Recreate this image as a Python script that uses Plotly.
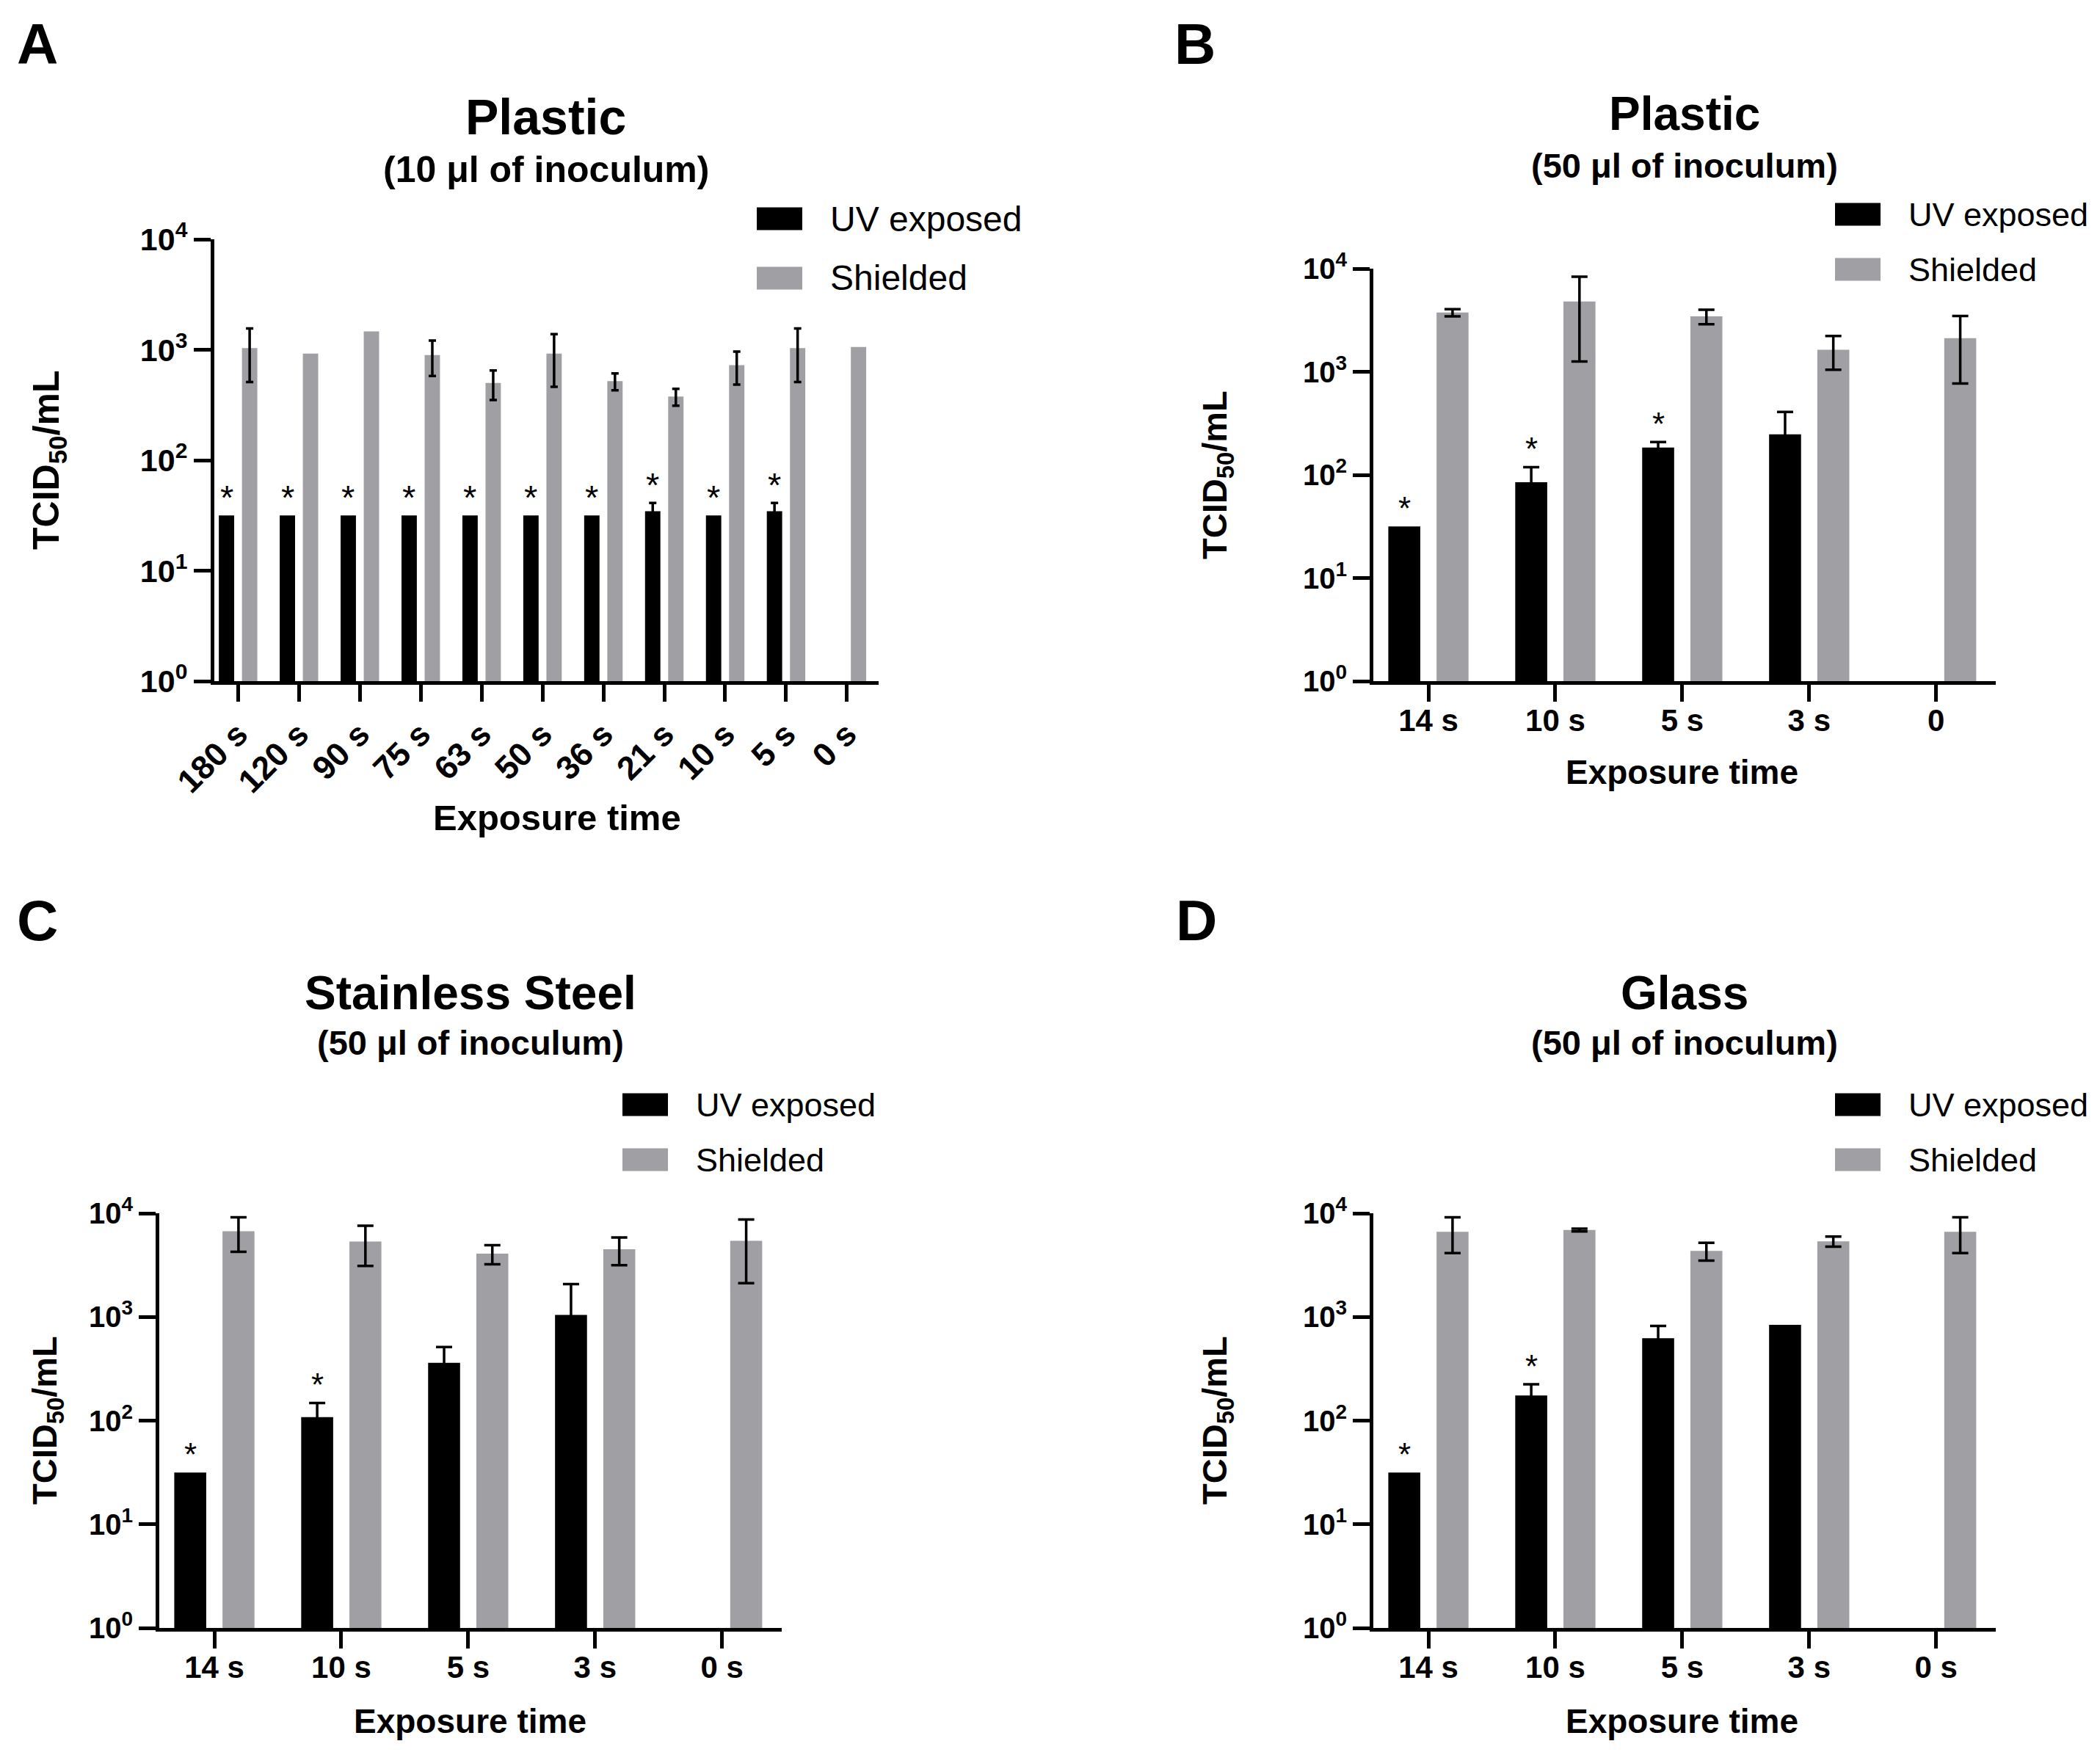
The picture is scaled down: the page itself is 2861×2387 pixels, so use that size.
"""
UV inactivation of virus on surfaces: four panel TCID50 bar chart (log scale).
UV exposed vs shielded samples per exposure time.
Saves to out.html.
"""

import math

import numpy as np
import plotly.graph_objects as go

W, H = 2861, 2387
PAGE_MARGIN = 8  # default <body> margin of the written html page
FONT = "Arial, Liberation Sans, Helvetica, sans-serif"
UV_COLOUR = "#000000"
SHIELD_COLOUR = "#a0a0a4"
BARGAP = 0.24
BARGROUPGAP = 0.337

# ---- data (TCID50/mL) ----
A_TIMES = ["180 s", "120 s", "90 s", "75 s", "63 s", "50 s", "36 s", "21 s", "10 s", "5 s", "0 s"]
A_UV = [31.6, 31.6, 31.6, 31.6, 31.6, 31.6, 31.6, 34.5, 31.6, 34.5, None]
A_UV_ERR = [None, None, None, None, None, None, None, 6.5, None, 6.5, None]
A_SHIELD = [1035, 922, 1468, 894, 500, 922, 520, 377, 724, 1035, 1060]
A_SHIELD_ERR = [525, None, None, 315, 150, 460, 90, 65, 240, 525, None]
A_STARS = [1, 1, 1, 1, 1, 1, 1, 1, 1, 1, 0]

B_TIMES = ["14 s", "10 s", "5 s", "3 s", "0"]
B_UV = [31.6, 85, 184, 247, None]
B_UV_ERR = [None, 34, 24, 160, None]
B_SHIELD = [3750, 4810, 3440, 1635, 2120]
B_SHIELD_ERR = [300, 3550, 550, 590, 1350]
B_STARS = [1, 1, 1, 0, 0]

C_TIMES = ["14 s", "10 s", "5 s", "3 s", "0 s"]
C_UV = [31.6, 108, 361, 1045, None]
C_UV_ERR = [None, 40, 152, 1030, None]
C_SHIELD = [6700, 5335, 4075, 4500, 5420]
C_SHIELD_ERR = [2450, 2230, 850, 1350, 3300]
C_STARS = [1, 1, 0, 0, 0]

D_TIMES = ["14 s", "10 s", "5 s", "3 s", "0 s"]
D_UV = [31.6, 175, 623, 840, None]
D_UV_ERR = [None, 49, 197, None, None]
D_SHIELD = [6630, 6890, 4345, 5370, 6630]
D_SHIELD_ERR = [2500, 200, 850, 600, 2500]
D_STARS = [1, 1, 0, 0, 0]

Y_TICKS = [1, 10, 100, 1000, 10000]
Y_TICKTEXT = ["10<sup>0</sup>", "10<sup>1</sup>", "10<sup>2</sup>", "10<sup>3</sup>", "10<sup>4</sup>"]

PANELS = [
    dict(letter="A", title="Plastic", subtitle="(10 μl of inoculum)",
         times=A_TIMES, uv=A_UV, uv_err=A_UV_ERR, shield=A_SHIELD, shield_err=A_SHIELD_ERR, stars=A_STARS),
    dict(letter="B", title="Plastic", subtitle="(50 μl of inoculum)",
         times=B_TIMES, uv=B_UV, uv_err=B_UV_ERR, shield=B_SHIELD, shield_err=B_SHIELD_ERR, stars=B_STARS),
    dict(letter="C", title="Stainless Steel", subtitle="(50 μl of inoculum)",
         times=C_TIMES, uv=C_UV, uv_err=C_UV_ERR, shield=C_SHIELD, shield_err=C_SHIELD_ERR, stars=C_STARS),
    dict(letter="D", title="Glass", subtitle="(50 μl of inoculum)",
         times=D_TIMES, uv=D_UV, uv_err=D_UV_ERR, shield=D_SHIELD, shield_err=D_SHIELD_ERR, stars=D_STARS),
]

# ---- layout in pixels of the 2861x2387 page ----
# plot box (left, right, top, bottom), x range, error cap half width, font scale
GEOM = {
    "A": dict(box=(292, 1197, 326, 928), xrange=[-0.39, 10.52], cap=5, tickangle=-45, scale=1.07,
              standoff=0, letter=(51, 60), title=(744, 159), subtitle=(744, 231),
              ytitle=(66, 627), xtitle=(759, 1114), legend=(1031, 298, 379)),
    "B": dict(box=(1871, 2719, 366, 928), xrange=[-0.434, 4.47], cap=11, tickangle=0, scale=1.0,
              standoff=-10, letter=(1628, 60), title=(2295, 155), subtitle=(2295, 225),
              ytitle=(1658, 647), xtitle=(2291, 1052), legend=(2500, 292, 367)),
    "C": dict(box=(217, 1065, 1653, 2218), xrange=[-0.434, 4.47], cap=11, tickangle=0, scale=1.0,
              standoff=-10, letter=(51, 1254), title=(641, 1353), subtitle=(641, 1421),
              ytitle=(64, 1935), xtitle=(640, 2345), legend=(848, 1505, 1580)),
    "D": dict(box=(1871, 2719, 1653, 2218), xrange=[-0.434, 4.47], cap=11, tickangle=0, scale=1.0,
              standoff=-10, letter=(1630, 1254), title=(2295, 1353), subtitle=(2295, 1421),
              ytitle=(1658, 1935), xtitle=(2291, 2345), legend=(2500, 1505, 1580)),
}


def px(x):
    return (x - PAGE_MARGIN) / W


def py(y):
    return 1 - (y - PAGE_MARGIN) / H


def err_array(values):
    # NaN keeps plotly from drawing a flat cap where there is no error bar
    return np.array([np.nan if v is None else v for v in values], dtype=float)


def text(x, y, s, size, bold=True, xanchor="center", **kw):
    return dict(
        x=px(x), y=py(y), xref="paper", yref="paper", text=s, showarrow=False,
        xanchor=xanchor, yanchor="middle",
        font=dict(family=FONT, size=size, color="black", weight="bold" if bold else "normal"),
        **kw,
    )


def main() -> None:
    fig = go.Figure()
    annotations = []
    shapes = []
    offset = (1 - BARGAP) / 4  # centre of each bar relative to its category

    for k, panel in enumerate(PANELS):
        g = GEOM[panel["letter"]]
        s = g["scale"]
        xa = "x" if k == 0 else f"x{k + 1}"
        ya = "y" if k == 0 else f"y{k + 1}"

        for name, values, errs, colour in [
            ("UV exposed", panel["uv"], panel["uv_err"], UV_COLOUR),
            ("Shielded", panel["shield"], panel["shield_err"], SHIELD_COLOUR),
        ]:
            fig.add_trace(
                go.Bar(
                    name=name,
                    x=panel["times"],
                    y=values,
                    marker=dict(color=colour, line=dict(width=0)),
                    error_y=dict(type="data", array=err_array(errs), visible=True,
                                 color="black", thickness=3.5, width=g["cap"]),
                    xaxis=xa,
                    yaxis=ya,
                    showlegend=False,
                )
            )

        for i, star in enumerate(panel["stars"]):
            if not star:
                continue
            top = panel["uv"][i] + (panel["uv_err"][i] or 0)
            annotations.append(dict(
                x=i - offset, y=math.log10(top), xref=xa, yref=ya, text="*",
                showarrow=False, xanchor="center", yanchor="middle", yshift=25,
                font=dict(family=FONT, size=round(44 * s), color="black"),
            ))

        left, right, top_px, bottom = g["box"]
        axis_font = dict(family=FONT, size=round(42 * s), color="black", weight="bold")
        common = dict(showline=True, linecolor="black", linewidth=5, ticks="outside",
                      ticklen=23, tickwidth=5, tickcolor="black", showgrid=False,
                      zeroline=False, tickfont=axis_font, fixedrange=True, automargin=False)
        fig.update_layout({
            ("xaxis" if k == 0 else f"xaxis{k + 1}"): dict(
                common, type="category", domain=[px(left), px(right)], anchor=ya,
                range=g["xrange"], tickangle=g["tickangle"], ticklabelstandoff=g["standoff"],
            ),
            ("yaxis" if k == 0 else f"yaxis{k + 1}"): dict(
                common, type="log", domain=[py(bottom), py(top_px)], anchor=xa,
                range=[0, 4], tickvals=Y_TICKS, ticktext=Y_TICKTEXT,
                tickfont=dict(axis_font, size=round(40 * s)),
            ),
        })

        annotations.append(text(*g["letter"], panel["letter"], 78))
        annotations.append(text(*g["title"], panel["title"], round(64 * s)))
        annotations.append(text(*g["subtitle"], panel["subtitle"], round(47 * s)))
        annotations.append(text(*g["xtitle"], "Exposure time", round(46 * s)))
        annotations.append(text(*g["ytitle"], "TCID<sub>50</sub>/mL", round(47 * s), textangle=-90))

        # hand-made legend, the built-in bar swatch cannot be scaled up
        lx, row1, row2 = g["legend"]
        for row, label, colour in [(row1, "UV exposed", UV_COLOUR), (row2, "Shielded", SHIELD_COLOUR)]:
            shapes.append(dict(type="rect", xref="paper", yref="paper",
                               x0=px(lx), x1=px(lx + 62), y0=py(row + 15.5), y1=py(row - 15.5),
                               fillcolor=colour, line=dict(width=0)))
            annotations.append(text(lx + 98, row, label, round(45 * s), bold=False, xanchor="left"))

    fig.update_layout(
        barmode="group",
        bargap=BARGAP,
        bargroupgap=BARGROUPGAP,
        width=W,
        height=H,
        margin=dict(l=0, r=0, t=0, b=0, autoexpand=False),
        paper_bgcolor="white",
        plot_bgcolor="white",
        font=dict(family=FONT, color="black"),
        annotations=annotations,
        shapes=shapes,
    )
    fig.write_html("out.html")
    print("Saved out.html")


if __name__ == "__main__":
    main()
